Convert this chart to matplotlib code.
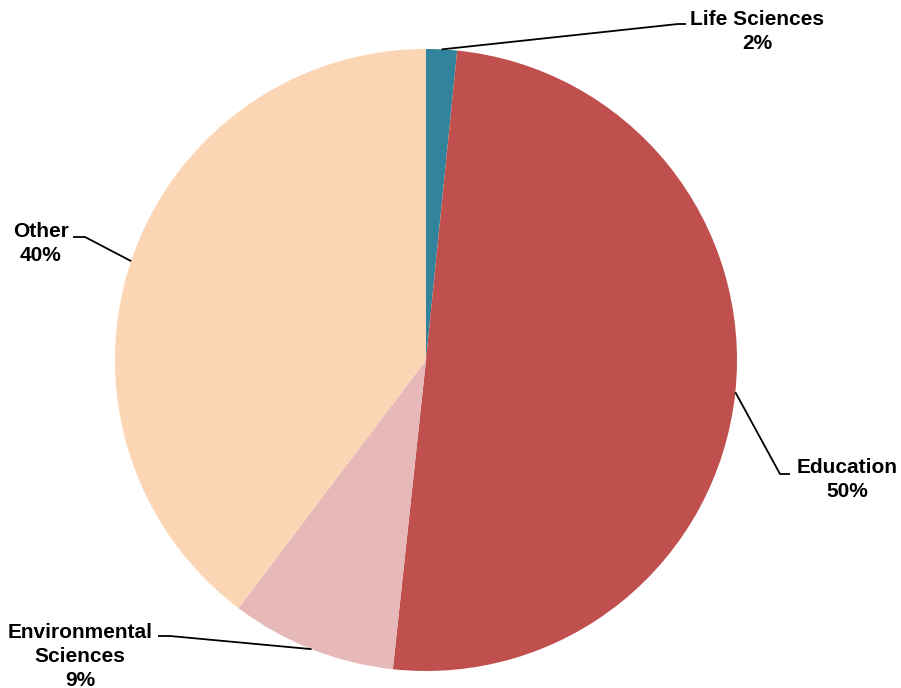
import numpy as np
import matplotlib
matplotlib.use("Agg")
import matplotlib.pyplot as plt

# slice shares (percent), clockwise from 12 o'clock
categories = ["Life Sciences", "Education", "Environmental\nSciences", "Other"]
shares = [1.6, 50.1, 8.6, 39.7]
pct_labels = ["2%", "50%", "9%", "40%"]
colors = ["#31849B", "#C0504D", "#E6B9B8", "#FCD5B5"]

plt.rcParams["font.family"] = ["Liberation Sans", "DejaVu Sans"]

W, H = 901, 688
fig = plt.figure(figsize=(W / 100, H / 100), dpi=100)
ax = fig.add_axes([0, 0, 1, 1])

cx, cy, r = 426, 360, 311
# y axis is flipped below, so counterclock=True draws clockwise on screen
wedges, _ = ax.pie(shares, colors=colors, startangle=-90, counterclock=True,
                   center=(cx, cy), radius=r, frame=True,
                   wedgeprops=dict(linewidth=0))
ax.set_xlim(0, W); ax.set_ylim(H, 0)
ax.set_aspect("equal"); ax.axis("off")

# label position (text centre of first line), elbow end, elbow start
layout = [
    dict(text=(757, 18), elbow=[(686, 24), (678, 24)]),
    dict(text=(847, 466), elbow=[(790, 474), (780, 474)]),
    dict(text=(80, 631), elbow=[(158, 636), (170, 636)]),
    dict(text=(41, 230), elbow=[(73, 237), (85, 237)]),
]

for w, cat, pct, lay in zip(wedges, categories, pct_labels, layout):
    mid = np.deg2rad((w.theta1 + w.theta2) / 2)
    ax_, ay_ = cx + r * np.cos(mid), cy + r * np.sin(mid)
    (x1, y1), (x2, y2) = lay["elbow"]
    ax.plot([x1, x2, ax_], [y1, y2, ay_], color="black", lw=1.3,
            solid_capstyle="butt")
    tx, ty = lay["text"]
    ax.text(tx, ty - 8, cat + "\n" + pct, ha="center", va="top",
            fontsize=15, fontweight="bold", linespacing=1.32)

fig.savefig("out.png", dpi=100)
